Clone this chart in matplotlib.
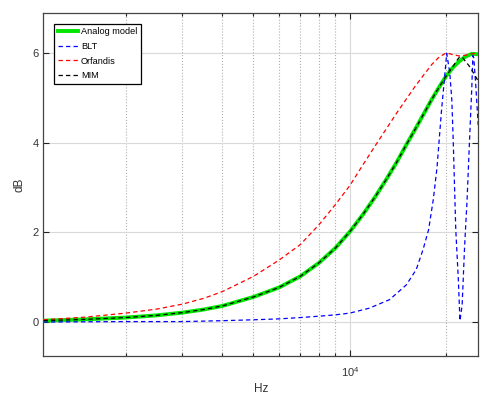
import numpy as np
import matplotlib.pyplot as plt
from matplotlib.ticker import FixedLocator, NullFormatter, NullLocator

plt.rcParams['font.family'] = ['Liberation Sans', 'DejaVu Sans']

# frequency grid (Hz) shared by the smooth curves
freq = [1105, 1500, 2000, 2500, 3000, 3500, 4000, 5000, 6000, 7000, 8000, 9000,
        10000, 11000, 12000, 13000, 14000, 15000, 16000, 17000, 18000, 19000,
        20000, 21000, 22000, 23000, 24000, 25140]

analog = [0.03, 0.06, 0.10, 0.15, 0.21, 0.28, 0.36, 0.56, 0.77, 1.02, 1.32, 1.65,
          2.02, 2.41, 2.80, 3.19, 3.57, 3.96, 4.31, 4.65, 4.97, 5.25,
          5.50, 5.69, 5.83, 5.93, 5.99, 5.98]

orfandis = [0.05, 0.11, 0.20, 0.29, 0.40, 0.53, 0.68, 1.02, 1.38, 1.73, 2.17, 2.62,
            3.05, 3.52, 3.94, 4.32, 4.67, 4.98, 5.27, 5.52, 5.75, 5.92,
            6.01, 5.97, 5.94, 5.96, 5.99, 6.00]

freq_mim = [1105, 1500, 2000, 2500, 3000, 3500, 4000, 5000, 6000, 7000, 8000, 9000,
            10000, 11000, 12000, 13000, 14000, 15000, 16000, 17000, 18000, 19000,
            20000, 21000, 21500, 22000, 22500, 23000, 23500, 24000, 24500, 25140]
mim = [0.03, 0.06, 0.10, 0.15, 0.21, 0.28, 0.36, 0.56, 0.77, 1.02, 1.32, 1.65,
       2.02, 2.41, 2.80, 3.19, 3.57, 3.96, 4.31, 4.65, 4.97, 5.25,
       5.50, 5.71, 5.83, 5.92, 5.90, 5.81, 5.73, 5.63, 5.52, 5.38]

freq_blt = [1105, 2000, 3000, 4000, 5000, 6000, 7000, 8000, 9000, 10000, 11500,
            13300, 15000, 16100, 16900, 17600, 18200, 18700, 19300, 19800, 20050,
            20500, 20800, 21000, 21400, 21800, 22050, 22400, 22800, 23200, 23700,
            24000, 24200, 24350, 24700, 25140]
blt = [0.00, 0.01, 0.01, 0.03, 0.05, 0.07, 0.10, 0.13, 0.16, 0.20, 0.31,
       0.50, 0.83, 1.17, 1.61, 2.06, 2.73, 3.45, 4.70, 5.56, 6.00,
       5.56, 4.96, 4.10, 2.06, 0.94, 0.03, 0.38, 1.69, 2.70, 4.30,
       5.20, 5.95, 5.90, 5.30, 4.40]

fig = plt.figure(figsize=(4.94, 3.96), dpi=100)
ax = fig.add_axes([0.088, 0.102, 0.880, 0.865])

ax.plot(freq, analog, color='#00e600', lw=2.8, label='Analog model', zorder=3)
ax.plot(freq_blt, blt, color='#0000ff', lw=0.9, dashes=(3.5, 2.5), label='BLT', zorder=4)
ax.plot(freq, orfandis, color='#ff0000', lw=0.9, dashes=(3.5, 2.5), label='Orfandis', zorder=4)
ax.plot(freq_mim, mim, color='black', lw=0.9, dashes=(3.5, 2.5), label='MIM', zorder=5)

ax.set_xscale('log')
ax.set_xlim(1105, 25140)
ax.set_ylim(-0.75, 6.9)

ax.yaxis.set_major_locator(FixedLocator([0, 2, 4, 6]))
ax.yaxis.set_minor_locator(NullLocator())
ax.xaxis.set_major_locator(FixedLocator([10000]))
ax.xaxis.set_minor_locator(FixedLocator([2000, 3000, 4000, 5000, 6000, 7000, 8000, 9000, 20000]))
ax.xaxis.set_minor_formatter(NullFormatter())

ax.grid(True, which='major', color='#d9d9d9', lw=0.8, ls='-', zorder=0)
ax.xaxis.grid(True, which='minor', color='#b0b0b0', lw=0.8, ls=':')
ax.set_axisbelow(True)

ax.tick_params(which='both', direction='in', top=True, right=True, colors='#222222',
               labelcolor='#333333', labelsize=8, width=0.8)
ax.tick_params(which='major', length=4)
ax.tick_params(which='minor', length=2)
ax.tick_params(axis='x', which='major', pad=7)
for s in ax.spines.values():
    s.set_color('#444444')
    s.set_linewidth(0.9)

ax.set_xlabel('Hz', fontsize=8.5, color='#333333', labelpad=3)
ax.set_ylabel('dB', fontsize=8.5, color='#333333', labelpad=5)

leg = ax.legend(loc='upper left', fontsize=6.6, fancybox=False, edgecolor='black',
                framealpha=1, borderpad=0.4, handlelength=2.2, handletextpad=0.35,
                labelspacing=0.62, borderaxespad=1.15)
leg.get_frame().set_linewidth(0.9)

fig.savefig('out.png', dpi=100)
